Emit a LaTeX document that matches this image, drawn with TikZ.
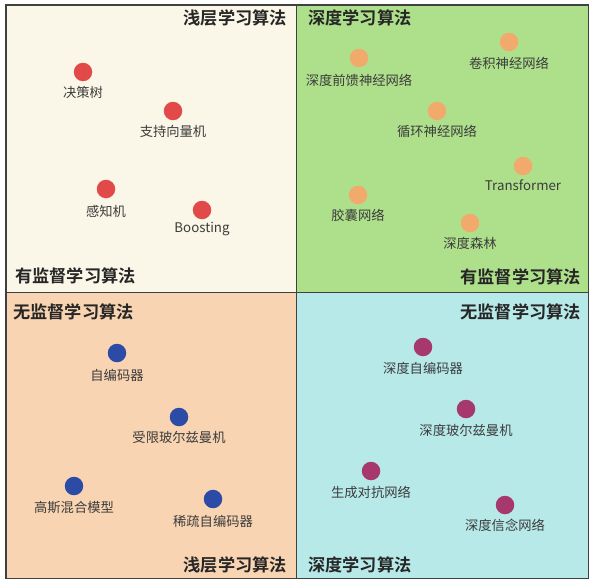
\documentclass[tikz,border=0pt]{standalone}
\usepackage{fontspec}
\setmainfont{Noto Sans CJK SC}
\newfontfamily\cjkbold{Noto Sans CJK SC Bold}
\definecolor{qcream}{HTML}{FBF7E8}
\definecolor{qgreen}{HTML}{AEE08C}
\definecolor{qpeach}{HTML}{F8D4B2}
\definecolor{qcyan}{HTML}{B8E9E9}
\definecolor{dred}{HTML}{E24A4A}
\definecolor{dorange}{HTML}{F2A96C}
\definecolor{dblue}{HTML}{2C4BA6}
\definecolor{dmag}{HTML}{A6386D}
\definecolor{frame}{HTML}{404040}
\definecolor{labtxt}{HTML}{3C3C3C}
\definecolor{titletxt}{HTML}{262626}
\begin{document}
\begin{tikzpicture}[x=1pt,y=-1pt,
  quad/.style={draw=frame,line width=1.8pt},
  dot/.style={circle,inner sep=0pt,minimum size=18.5pt,fill=#1},
  lab/.style={text=labtxt,font=\fontsize{13.3}{14}\selectfont,inner sep=0pt},
  ttl/.style={text=titletxt,font=\cjkbold\fontsize{17.2}{18}\selectfont,inner sep=0pt}]
\useasboundingbox (0,0) rectangle (593,586);
\fill[white] (0,0) rectangle (593,586);
% quadrants
\filldraw[quad,fill=qcream] (6,5) rectangle (296.5,292.5);
\filldraw[quad,fill=qgreen] (296.5,5) rectangle (588.5,292.5);
\filldraw[quad,fill=qpeach] (6,292.5) rectangle (296.5,578.5);
\filldraw[quad,fill=qcyan] (296.5,292.5) rectangle (588.5,578.5);
% titles
\node[ttl,anchor=east] (t1) at (287,18) {浅层学习算法};
\node[ttl,anchor=west] (t2) at (15,276) {有监督学习算法};
\node[ttl,anchor=west] (t3) at (308,18) {深度学习算法};
\node[ttl,anchor=east] (t4) at (581,277) {有监督学习算法};
\node[ttl,anchor=west] (t5) at (13,312) {无监督学习算法};
\node[ttl,anchor=east] (t6) at (287,565) {浅层学习算法};
\node[ttl,anchor=east] (t7) at (581,312) {无监督学习算法};
\node[ttl,anchor=west] (t8) at (308,565) {深度学习算法};
% top-left
\node[dot=dred] (a1) at (83,72) {};
\node[lab] (la1) at (83,92) {决策树};
\node[dot=dred] (a2) at (173,111) {};
\node[lab] (la2) at (173,131) {支持向量机};
\node[dot=dred] (a3) at (106,189) {};
\node[lab] (la3) at (106,211) {感知机};
\node[dot=dred] (a4) at (202,210) {};
\node[lab] (la4) at (202,229) {Boosting};
% top-right
\node[dot=dorange] (b1) at (359,58) {};
\node[lab] (lb1) at (359,80) {深度前馈神经网络};
\node[dot=dorange] (b2) at (509,42) {};
\node[lab] (lb2) at (509,63) {卷积神经网络};
\node[dot=dorange] (b3) at (437,111) {};
\node[lab] (lb3) at (437,131) {循环神经网络};
\node[dot=dorange] (b4) at (523,166) {};
\node[lab] (lb4) at (523,185) {Transformer};
\node[dot=dorange] (b5) at (358,195) {};
\node[lab] (lb5) at (358,215) {胶囊网络};
\node[dot=dorange] (b6) at (470,223) {};
\node[lab] (lb6) at (470,243) {深度森林};
% bottom-left
\node[dot=dblue] (c1) at (117,353) {};
\node[lab] (lc1) at (117,375) {自编码器};
\node[dot=dblue] (c2) at (179,417) {};
\node[lab] (lc2) at (179,437) {受限玻尔兹曼机};
\node[dot=dblue] (c3) at (74,486) {};
\node[lab] (lc3) at (74,508) {高斯混合模型};
\node[dot=dblue] (c4) at (213,499) {};
\node[lab] (lc4) at (213,521) {稀疏自编码器};
% bottom-right
\node[dot=dmag] (d1) at (423,347) {};
\node[lab] (ld1) at (423,368) {深度自编码器};
\node[dot=dmag] (d2) at (466,409) {};
\node[lab] (ld2) at (466,430) {深度玻尔兹曼机};
\node[dot=dmag] (d3) at (371,471) {};
\node[lab] (ld3) at (371,492) {生成对抗网络};
\node[dot=dmag] (d4) at (505,505) {};
\node[lab] (ld4) at (505,525) {深度信念网络};
\end{tikzpicture}
\end{document}
